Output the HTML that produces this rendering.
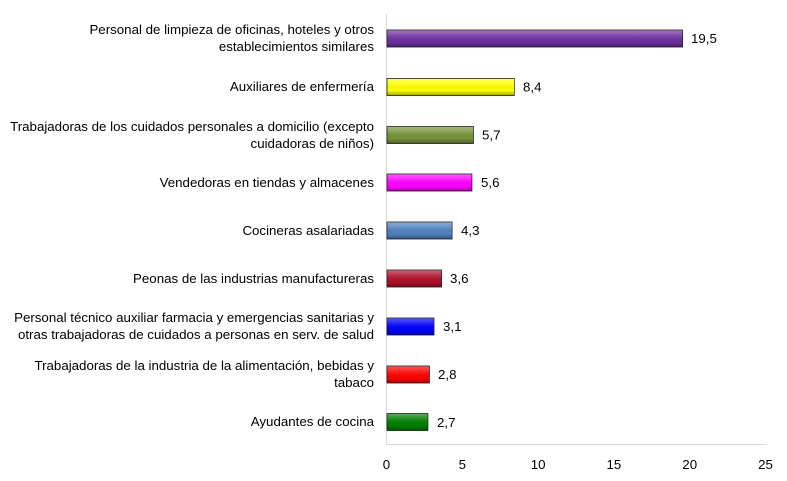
<!DOCTYPE html>
<html><head><meta charset="utf-8"><style>
body{margin:0;background:#fff}
svg{display:block;font-family:"Liberation Sans",sans-serif;font-size:13.3px;fill:#000}
</style></head><body>
<svg width="787" height="481" xmlns="http://www.w3.org/2000/svg">
<defs>
<linearGradient id="sh" x1="0" y1="0" x2="0" y2="1">
<stop offset="0" stop-color="#fff" stop-opacity="0.35"/>
<stop offset="0.3" stop-color="#fff" stop-opacity="0.15"/>
<stop offset="0.7" stop-color="#000" stop-opacity="0"/>
<stop offset="1" stop-color="#000" stop-opacity="0.35"/>
</linearGradient>
</defs>
<line x1="386.5" y1="14" x2="386.5" y2="445" stroke="#d9d9d9"/>
<line x1="386.5" y1="444.5" x2="766" y2="444.5" stroke="#d9d9d9"/>
<g text-anchor="middle" font-size="13.3">
<text x="386.5" y="469">0</text><text x="462.3" y="469">5</text><text x="538.1" y="469">10</text>
<text x="613.9" y="469">15</text><text x="689.7" y="469">20</text><text x="765.5" y="469">25</text>
</g>
<g stroke="#222" stroke-width="0.6">
<rect x="387" y="30" width="295.6" height="17" fill="#7030a0"/><rect x="387" y="30" width="295.6" height="17" fill="url(#sh)"/>
<rect x="387" y="78.5" width="127.3" height="17" fill="#ffff00"/><rect x="387" y="78.5" width="127.3" height="17" fill="url(#sh)"/>
<rect x="387" y="126.5" width="86.4" height="17" fill="#77933c"/><rect x="387" y="126.5" width="86.4" height="17" fill="url(#sh)"/>
<rect x="387" y="174" width="84.9" height="17" fill="#ff00ff"/><rect x="387" y="174" width="84.9" height="17" fill="url(#sh)"/>
<rect x="387" y="222" width="65.2" height="17" fill="#4f81bd"/><rect x="387" y="222" width="65.2" height="17" fill="url(#sh)"/>
<rect x="387" y="270" width="54.6" height="17" fill="#b0102a"/><rect x="387" y="270" width="54.6" height="17" fill="url(#sh)"/>
<rect x="387" y="318" width="47" height="17" fill="#0000ff"/><rect x="387" y="318" width="47" height="17" fill="url(#sh)"/>
<rect x="387" y="366" width="42.4" height="17" fill="#ff0000"/><rect x="387" y="366" width="42.4" height="17" fill="url(#sh)"/>
<rect x="387" y="413.5" width="40.9" height="17" fill="#008000"/><rect x="387" y="413.5" width="40.9" height="17" fill="url(#sh)"/>
</g>
<g font-size="13.3">
<text x="691" y="43">19,5</text>
<text x="523" y="91.5">8,4</text>
<text x="482" y="139.5">5,7</text>
<text x="481" y="187">5,6</text>
<text x="461" y="235">4,3</text>
<text x="450" y="283">3,6</text>
<text x="443" y="331">3,1</text>
<text x="438" y="379">2,8</text>
<text x="437" y="427">2,7</text>
</g>
<g text-anchor="end" font-size="13.3">
<text x="374" y="34">Personal de limpieza de oficinas, hoteles y otros</text>
<text x="374" y="51">establecimientos similares</text>
<text x="374" y="91">Auxiliares de enfermería</text>
<text x="374" y="131">Trabajadoras de los cuidados personales a domicilio (excepto</text>
<text x="374" y="148">cuidadoras de niños)</text>
<text x="374" y="187">Vendedoras en tiendas y almacenes</text>
<text x="374" y="235">Cocineras asalariadas</text>
<text x="374" y="283">Peonas de las industrias manufactureras</text>
<text x="374" y="322">Personal técnico auxiliar farmacia y emergencias sanitarias y</text>
<text x="374" y="339">otras trabajadoras de cuidados a personas en serv. de salud</text>
<text x="374" y="370">Trabajadoras de la industria de la alimentación, bebidas y</text>
<text x="374" y="387">tabaco</text>
<text x="374" y="426">Ayudantes de cocina</text>
</g>
</svg>
</body></html>
